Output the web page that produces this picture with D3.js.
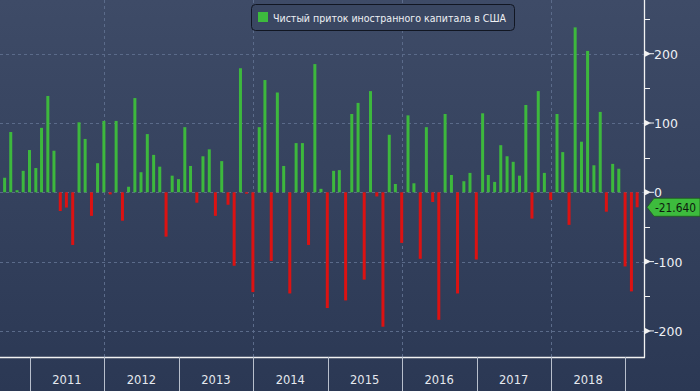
<!DOCTYPE html>
<html>
<head>
<meta charset="utf-8">
<script src="https://cdn.jsdelivr.net/npm/d3@7"></script>
<style>
  html, body { margin: 0; padding: 0; background: #2d3a56; }
  svg { display: block; }
</style>
</head>
<body>
<script>
// Net foreign capital inflow into the US, monthly, Aug 2010 - Feb 2019 (bn USD)
const startYear = 2010, startMonth = 7; // August 2010
const values = [
  21, 87, 3, 31, 61, 35, 93, 139, 60, -27, -22, -76,
  101, 77, -34, 42, 103, -3, 103, -41, 8, 136, 29, 84,
  54, 37, -64, 24, 19, 94, 38, -15, 52, 62, -34, 45,
  -18, -106, 179, -2, -144, 94, 162, -99, 144, 38, -146, 71,
  71, -76, 185, 5, -167, 31, 32, -156, 113, 129, -126, 146,
  -6, -194, 83, 12, -73, 111, 13, -96, 94, -14, -184, 113,
  25, -146, 16, 28, -97, 114, 25, 15, 68, 52, 44, 24,
  126, -38, 146, 28, -11, 113, 58, -47, 238, 73, 204, 39,
  116, -28, 41, 34, -107, -143, -21.64
];
const yearLabels = [2011, 2012, 2013, 2014, 2015, 2016, 2017, 2018];
const yTicks = [-200, -100, 0, 100, 200];
const yMinor = [-150, -50, 50, 150, 250];
const legendText = "Чистый приток иностранного капитала в США";
const lastLabel = "-21.640";

const width = 700, height = 391;
const plotRight = 644, plotBottom = 357;
const font = "DejaVu Sans, sans-serif";

// month-end dates
const dates = values.map((v, i) => new Date(startYear, startMonth + i + 1, 0));
const data = values.map((v, i) => ({ date: dates[i], value: v }));

const svg = d3.select("body").append("svg")
    .attr("width", width)
    .attr("height", height);

const defs = svg.append("defs");
const grad = defs.append("linearGradient")
    .attr("id", "bg").attr("x1", 0).attr("x2", 0).attr("y1", 0).attr("y2", 1);
grad.append("stop").attr("offset", "0%").attr("stop-color", "#3e4b67");
grad.append("stop").attr("offset", "100%").attr("stop-color", "#2b3854");

svg.append("rect")
    .attr("width", width).attr("height", height)
    .attr("fill", "url(#bg)");

const x = d3.scaleTime()
    .domain([new Date(2011, 0, 1), new Date(2019, 0, 1)])
    .range([29.7, 625.3]);

const y = d3.scaleLinear()
    .domain([0, 100])
    .range([192.3, 123]);

// grid
const grid = svg.append("g").attr("class", "grid")
    .attr("stroke", "#5b6b8a")
    .attr("stroke-dasharray", "3,3")
    .attr("stroke-width", 1);

grid.selectAll("line.h")
    .data(yTicks)
    .enter().append("line")
    .attr("class", "h")
    .attr("x1", 0).attr("x2", plotRight)
    .attr("y1", d => Math.round(y(d)) + 0.5)
    .attr("y2", d => Math.round(y(d)) + 0.5);

grid.selectAll("line.v")
    .data([2012, 2014, 2016, 2018])
    .enter().append("line")
    .attr("class", "v")
    .attr("x1", d => Math.round(x(new Date(d, 0, 1))) + 0.5)
    .attr("x2", d => Math.round(x(new Date(d, 0, 1))) + 0.5)
    .attr("y1", 0).attr("y2", plotBottom);

// bars
const barW = 3;
svg.append("g").attr("class", "bars")
    .selectAll("rect")
    .data(data)
    .enter().append("rect")
    .attr("x", d => x(d.date) - barW / 2)
    .attr("width", barW)
    .attr("y", d => d.value >= 0 ? y(d.value) : y(0))
    .attr("height", d => Math.abs(y(d.value) - y(0)))
    .attr("fill", d => d.value >= 0 ? "#3db83d" : "#dc1212");

// frame
svg.append("line")
    .attr("x1", plotRight + 0.5).attr("x2", plotRight + 0.5)
    .attr("y1", 0).attr("y2", plotBottom + 0.5)
    .attr("stroke", "#f2f2f2").attr("stroke-width", 1.3);
svg.append("line")
    .attr("x1", 0).attr("x2", plotRight + 1)
    .attr("y1", plotBottom + 0.5).attr("y2", plotBottom + 0.5)
    .attr("stroke", "#f2f2f2").attr("stroke-width", 1.3);

// right axis
const yAxis = svg.append("g").attr("class", "y-axis");
yAxis.selectAll("line.minor")
    .data(yMinor)
    .enter().append("line")
    .attr("x1", plotRight).attr("x2", plotRight + 6)
    .attr("y1", d => Math.round(y(d)) + 0.5)
    .attr("y2", d => Math.round(y(d)) + 0.5)
    .attr("stroke", "#f2f2f2");
yAxis.selectAll("path.major")
    .data(yTicks)
    .enter().append("path")
    .attr("d", d => {
        const yy = y(d);
        return `M${plotRight},${yy - 3.5}L${plotRight + 7},${yy}L${plotRight},${yy + 3.5}Z`;
    })
    .attr("fill", "#f2f2f2");
yAxis.selectAll("line.majorl")
    .data(yTicks)
    .enter().append("line")
    .attr("x1", plotRight + 6).attr("x2", plotRight + 10)
    .attr("y1", d => y(d)).attr("y2", d => y(d))
    .attr("stroke", "#f2f2f2");
yAxis.selectAll("text")
    .data(yTicks)
    .enter().append("text")
    .attr("x", plotRight + 10)
    .attr("y", d => y(d) + 5)
    .attr("font-family", font)
    .attr("font-size", 12.5)
    .attr("fill", "#eef0f4")
    .text(d => String(d));

// last value marker
const lastY = y(values[values.length - 1]);
svg.append("path")
    .attr("d", `M${plotRight + 3},${lastY}L${plotRight + 10},${lastY - 9}H${width}V${lastY + 9}H${plotRight + 10}Z`)
    .attr("fill", "#3dbb3d")
    .attr("stroke", "#1f5a1f").attr("stroke-width", 0.8);
svg.append("text")
    .attr("x", plotRight + 11)
    .attr("y", lastY + 5)
    .attr("font-family", font)
    .attr("font-size", 12)
    .attr("textLength", 41)
    .attr("lengthAdjust", "spacingAndGlyphs")
    .attr("fill", "#0e1a0e")
    .text(lastLabel);

// bottom axis: year separators and labels
const xAxis = svg.append("g").attr("class", "x-axis");
const seps = d3.range(2011, 2020).map(yr => new Date(yr, 0, 1));
xAxis.selectAll("line")
    .data(seps)
    .enter().append("line")
    .attr("x1", d => Math.round(x(d)) + 0.5)
    .attr("x2", d => Math.round(x(d)) + 0.5)
    .attr("y1", plotBottom).attr("y2", height)
    .attr("stroke", "#b8bfcc");
xAxis.selectAll("text")
    .data(yearLabels)
    .enter().append("text")
    .attr("x", d => (x(new Date(d, 0, 1)) + x(new Date(d + 1, 0, 1))) / 2)
    .attr("y", 384)
    .attr("text-anchor", "middle")
    .attr("font-family", font)
    .attr("font-size", 11.5)
    .attr("fill", "#e6e9ef")
    .text(d => d);

// legend
const legend = svg.append("g").attr("class", "legend");
legend.append("rect")
    .attr("x", 251.5).attr("y", 4.5)
    .attr("width", 263).attr("height", 26)
    .attr("rx", 4)
    .attr("fill", "#3a4762")
    .attr("stroke", "#111622").attr("stroke-width", 1);
legend.append("rect")
    .attr("x", 258).attr("y", 12)
    .attr("width", 10).attr("height", 10)
    .attr("fill", "#3dbb3d");
legend.append("text")
    .attr("x", 273).attr("y", 21.5)
    .attr("font-family", font)
    .attr("font-size", 10)
    .attr("textLength", 233)
    .attr("lengthAdjust", "spacingAndGlyphs")
    .attr("fill", "#eef0f4")
    .text(legendText);
</script>
</body>
</html>
